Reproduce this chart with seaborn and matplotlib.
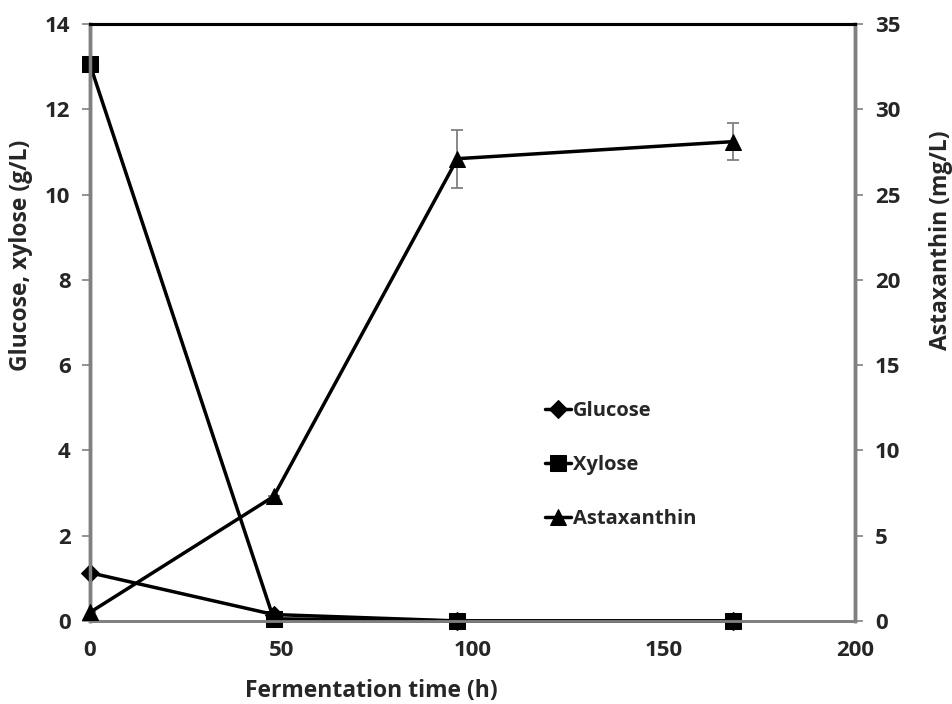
import numpy as np
import pandas as pd
import matplotlib
matplotlib.use("Agg")
import matplotlib.pyplot as plt
import seaborn as sns

# ─── Data ─────────────────────────────────────────────────────────────────────
time_h = [0, 48, 96, 168]
glucose = [1.13, 0.15, 0.0, 0.0]
xylose = [13.05, 0.05, 0.0, 0.0]
astaxanthin = [0.5, 7.3, 27.1, 28.1]
astaxanthin_err = [0.0, 0.0, 1.7, 1.1]

x_ticks = [0, 50, 100, 150, 200]
left_ticks = [0, 2, 4, 6, 8, 10, 12, 14]
right_ticks = [0, 5, 10, 15, 20, 25, 30, 35]

sns.set_style("white")
plt.rcParams["font.family"] = ["Open Sans", "DejaVu Sans"]
plt.rcParams["font.weight"] = "bold"

GRAY = "#808080"

fig = plt.figure(figsize=(9.52, 7.04), dpi=100)
ax = fig.add_axes([0.0945, 0.118, 0.804, 0.848])
ax2 = ax.twinx()

sugars = pd.DataFrame({"time": time_h, "Glucose": glucose, "Xylose": xylose})
sns.lineplot(data=sugars, x="time", y="Glucose", ax=ax, color="black", lw=2.5,
             marker="D", markersize=9, markeredgecolor="black", label="Glucose",
             legend=False, zorder=3, clip_on=False)
sns.lineplot(data=sugars, x="time", y="Xylose", ax=ax, color="black", lw=2.5,
             marker="s", markersize=11, markeredgecolor="black", label="Xylose",
             legend=False, zorder=3, clip_on=False)

asta = pd.DataFrame({"time": time_h, "Astaxanthin": astaxanthin})
sns.lineplot(data=asta, x="time", y="Astaxanthin", ax=ax2, color="black", lw=2.5,
             marker="^", markersize=11, markeredgecolor="black", label="Astaxanthin",
             legend=False, zorder=3, clip_on=False)
ax2.errorbar(time_h, astaxanthin, yerr=astaxanthin_err, fmt="none",
             ecolor=GRAY, elinewidth=1.3, capsize=4, capthick=1.3, zorder=2)

# ── Axes ──────────────────────────────────────────────────────────────────────
ax.set_xlim(0, 200)
ax.set_ylim(0, 14)
ax2.set_ylim(0, 35)
ax.set_xticks(x_ticks)
ax.set_yticks(left_ticks)
ax2.set_yticks(right_ticks)

ax.set_xlabel("Fermentation time (h)", fontsize=16.5, fontweight="bold")
ax.set_ylabel("Glucose, xylose (g/L)", fontsize=16.5, fontweight="bold")
ax2.set_ylabel("Astaxanthin (mg/L)", fontsize=16.5, fontweight="bold")
# Excel-style label placement (not centred on the axes)
ax.xaxis.set_label_coords(0.367, -0.097)
ax.yaxis.set_label_coords(-0.074, 0.613)
ax2.yaxis.set_label_coords(1.096, 0.638)

for a in (ax, ax2):
    a.tick_params(axis="both", which="major", direction="out", length=6, width=1.2,
                  color=GRAY, labelsize=16, pad=8)
    for lbl in a.get_xticklabels() + a.get_yticklabels():
        lbl.set_fontweight("bold")
    a.spines["left"].set_color(GRAY)
    a.spines["right"].set_color(GRAY)
    a.spines["left"].set_linewidth(2.5)
    a.spines["right"].set_linewidth(2.5)
    a.spines["top"].set_color("black")
    a.spines["top"].set_linewidth(2.2)
    a.spines["bottom"].set_color(GRAY)
    a.spines["bottom"].set_linewidth(2.0)
ax2.set_xlabel("")

# ── Legend ────────────────────────────────────────────────────────────────────
h1, l1 = ax.get_legend_handles_labels()
h2, l2 = ax2.get_legend_handles_labels()
ax2.legend(h1 + h2, l1 + l2, loc="upper left", bbox_to_anchor=(0.584, 0.382),
           frameon=False, handlelength=1.3, handletextpad=0.1, labelspacing=1.7,
           borderaxespad=0, prop={"weight": "bold", "size": 14.5})

fig.savefig("out.png", dpi=100)
plt.close(fig)
